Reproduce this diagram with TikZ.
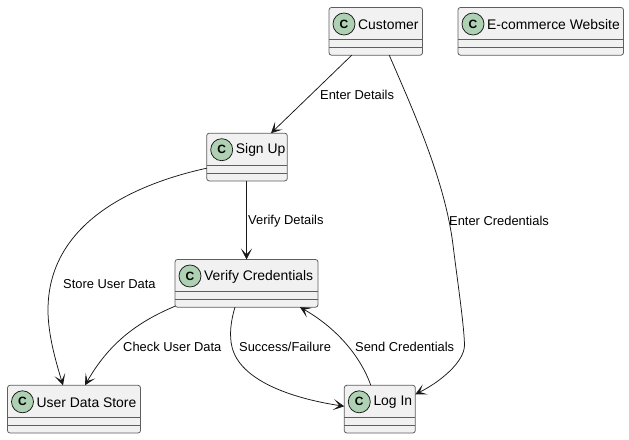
\documentclass[tikz,border=0pt]{standalone}
\usepackage{fontspec}
\setmainfont{Liberation Sans}
\usetikzlibrary{arrows.meta,calc}
\definecolor{ink}{HTML}{181818}
\definecolor{edge}{HTML}{5E5E5E}
\definecolor{boxfill}{HTML}{F1F1F1}
\definecolor{spot}{HTML}{ADD1B2}
\tikzset{
  classbox/.style={draw=edge,fill=boxfill,line width=0.8pt,rounded corners=2.5pt,minimum height=47.7pt,inner sep=0pt,outer sep=0pt},
  spotc/.style={circle,draw=ink,fill=spot,line width=0.75pt,minimum size=22pt,inner sep=0pt,font=\fontsize{12}{12}\selectfont\bfseries},
  classname/.style={anchor=west,inner sep=0pt,text=black,yshift=-0.7pt,font=\fontsize{13.9}{15}\selectfont},
  edgelabel/.style={anchor=west,inner sep=0pt,text=black,yshift=-0.8pt,font=\fontsize{12.9}{14}\selectfont},
  link/.style={draw=ink,line width=0.75pt,-{Stealth[length=11pt,width=11pt,inset=6pt]}},
  divider/.style={draw=edge,line width=0.8pt}
}
\newcommand{\umlclass}[5]{% name, left, right, top, text
  \node[classbox,minimum width=#3pt-#2pt,anchor=north west] (#1) at (#2,#4) {};
  \node[spotc] (#1c) at (#2+15,#4+16.5) {C};
  \node[classname] (#1t) at (#2+29,#4+16.5) {#5};
  \draw[divider] ([yshift=-32pt]#1.north west) -- ([yshift=-32pt]#1.north east);
  \draw[divider] ([yshift=-40pt]#1.north west) -- ([yshift=-40pt]#1.north east);
}
\begin{document}
\begin{tikzpicture}[x=1pt,y=-1pt]
\useasboundingbox (0,0) rectangle (629,439);
\fill[white] (0,0) rectangle (629,439);
\umlclass{cust}{329}{422.5}{7.5}{Customer}
\umlclass{site}{458}{623.5}{7.5}{E-commerce Website}
\umlclass{sign}{206.7}{287.3}{133.2}{Sign Up}
\umlclass{verify}{175}{318}{259.5}{Verify Credentials}
\umlclass{store}{7.5}{140.5}{385.3}{User Data Store}
\umlclass{login}{344.3}{415.3}{385.3}{Log In}

\draw[link] ([xshift=-24pt]cust.south) -- ([xshift=24pt]sign.north);
\draw[link] ([xshift=13.5pt]cust.south)
  .. controls (412,108) and (445,180) .. (453,245)
  .. controls (458,285) and (464,325) .. (464.5,345)
  .. controls (464.5,362) and (440,382) .. ([yshift=-9pt]login.north east);
\draw[link] ([xshift=-0.5pt]sign.south) -- ([xshift=-0.5pt]sign.south |- verify.north);
\draw[link] ([yshift=-35pt]sign.north west)
  .. controls (130,185) and (48,225) .. (48,310)
  .. controls (48,335) and (56,362) .. ([xshift=-11pt]store.north);
\draw[link] ([yshift=1pt]verify.south west)
  .. controls (135,323) and (108,345) .. ([xshift=11pt]store.north);
\draw[link] ([xshift=-11.5pt]verify.south)
  .. controls (231,320) and (229,335) .. (232,347)
  .. controls (240,380) and (290,398) .. ([yshift=-21pt]login.north west);
\draw[link] ([xshift=-9pt]login.north)
  .. controls (362,360) and (340,330) .. ([xshift=53.5pt]verify.south);

\node[edgelabel] (l1) at (320,94) {Enter Details};
\node[edgelabel] (l2) at (449,220) {Enter Credentials};
\node[edgelabel] (l3) at (248,220) {Verify Details};
\node[edgelabel] (l4) at (63,283) {Store User Data};
\node[edgelabel] (l5) at (123,346) {Check User Data};
\node[edgelabel] (l6) at (239,346) {Success/Failure};
\node[edgelabel] (l7) at (355,346) {Send Credentials};
\end{tikzpicture}
\end{document}
